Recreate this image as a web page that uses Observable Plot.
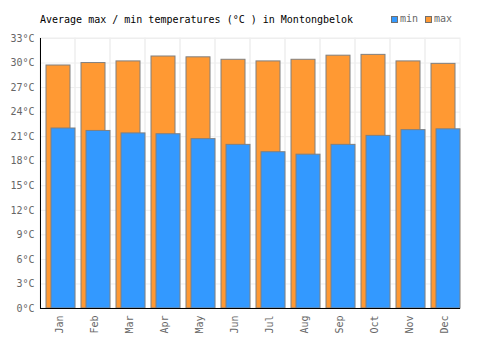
<!DOCTYPE html>
<html>
<head>
<meta charset="utf-8">
<script src="https://cdn.jsdelivr.net/npm/d3@7"></script>
<script src="https://cdn.jsdelivr.net/npm/@observablehq/plot@0.6"></script>
<style>
  html, body { margin: 0; padding: 0; background: #fff; }
  #wrap { position: relative; width: 500px; height: 350px; font-family: "DejaVu Sans Mono", monospace; }
  #title { position: absolute; left: 40px; top: 14px; font-size: 10px; line-height: 12px; color: #000; white-space: pre; }
  #legend { position: absolute; left: 391px; top: 13px; font-size: 10px; line-height: 12px; color: #666; display: flex; align-items: center; }
  .sw { display: inline-block; width: 5px; height: 5px; border: 1px solid #707070; margin-right: 2px; }
  .item { display: flex; align-items: center; margin-right: 7px; }
</style>
</head>
<body>
<div id="wrap">
  <div id="title"></div>
  <div id="legend"></div>
  <div id="chart"></div>
</div>
<script>
const titleText = "Average max / min temperatures (°C ) in Montongbelok";
const months = ["Jan","Feb","Mar","Apr","May","Jun","Jul","Aug","Sep","Oct","Nov","Dec"];
const maxTemps = [29.7, 30.0, 30.2, 30.8, 30.7, 30.4, 30.2, 30.4, 30.9, 31.0, 30.2, 29.9];
const minTemps = [22.0, 21.7, 21.4, 21.3, 20.7, 20.0, 19.1, 18.8, 20.0, 21.1, 21.8, 21.9];
const yTicks = [0, 3, 6, 9, 12, 15, 18, 21, 24, 27, 30, 33];
const seriesNames = ["min", "max"];
const seriesColors = ["#3399ff", "#ff9933"];

document.getElementById("title").textContent = titleText;
const legend = document.getElementById("legend");
seriesNames.forEach((n, i) => {
  const it = document.createElement("span");
  it.className = "item";
  const sw = document.createElement("span");
  sw.className = "sw";
  sw.style.background = seriesColors[i];
  it.appendChild(sw);
  it.appendChild(document.createTextNode(n));
  legend.appendChild(it);
});

const maxData = months.map((m, i) => ({month: m, value: maxTemps[i]}));
const minData = months.map((m, i) => ({month: m, value: minTemps[i]}));
const yMax = yTicks[yTicks.length - 1];

const chart = Plot.plot({
  width: 500,
  height: 350,
  marginLeft: 40,
  marginRight: 40,
  marginTop: 38,
  marginBottom: 42,
  style: {fontFamily: "DejaVu Sans Mono, monospace", fontSize: "10px", color: "#666", background: "#fff"},
  x: {domain: months, padding: 0},
  y: {domain: [0, yMax]},
  marks: [
    Plot.gridY(yTicks, {stroke: "#eeeeee", strokeOpacity: 1}),
    Plot.barY(months, {x: d => d, y1: 0, y2: yMax, fill: "none", stroke: "#eeeeee", strokeOpacity: 1}),
    Plot.barY(maxData, {x: "month", y: "value", fill: seriesColors[1], stroke: "#808080", strokeWidth: 1, insetLeft: 6, insetRight: 5}),
    Plot.barY(minData, {x: "month", y: "value", fill: seriesColors[0], stroke: "#808080", strokeWidth: 1, insetLeft: 11, insetRight: 0}),
    Plot.ruleY([0], {stroke: "#000", strokeWidth: 1}),
    Plot.ruleX([months[0]], {y1: 0, y2: yMax, dx: -17.5, stroke: "#000", strokeWidth: 1}),
    Plot.axisY(yTicks, {tickSize: 0, tickPadding: 6, tickFormat: d => d + "°C", label: null, fill: "#666"}),
    Plot.axisX({tickSize: 0, tickPadding: 7, tickRotate: -90, dx: 2, label: null, fill: "#666"})
  ]
});
document.getElementById("chart").appendChild(chart);
</script>
</body>
</html>
